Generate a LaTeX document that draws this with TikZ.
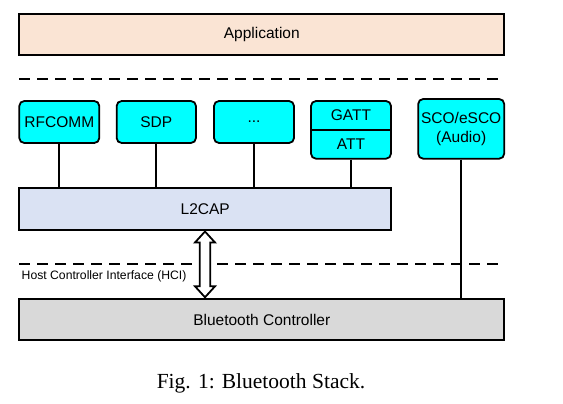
\documentclass[tikz,border=0pt]{standalone}
\usepackage{fontspec}
\setmainfont{Liberation Serif}
\setsansfont{Liberation Sans}
\usetikzlibrary{calc}
\definecolor{appfill}{RGB}{250,228,212}
\definecolor{l2fill}{RGB}{218,226,243}
\definecolor{ctlfill}{RGB}{217,217,217}
\definecolor{cyanfill}{RGB}{0,255,255}
\begin{document}
\begin{tikzpicture}[x=1pt,y=-1pt,
  boxfont/.style={font=\sffamily\fontsize{15.5}{18}\selectfont},
  layer/.style={draw,line width=1.8pt,inner sep=0pt,boxfont},
  proto/.style={draw,line width=1.8pt,rounded corners=5pt,fill=cyanfill,inner sep=0pt,boxfont,align=center},
  link/.style={line width=1.8pt},
  sep/.style={line width=1.8pt,dash pattern=on 11pt off 7pt}]
\useasboundingbox (0,0) rectangle (563,404);
% layers
\node[layer,fill=appfill,minimum width=485pt,minimum height=41pt] (app) at (261.8,34.5) {Application};
\node[layer,fill=l2fill,minimum width=371.7pt,minimum height=41.7pt] (l2cap) at (205.2,209.2) {L2CAP};
\node[layer,fill=ctlfill,minimum width=485pt,minimum height=41pt] (ctl) at (261.8,319.5) {Bluetooth Controller};
% protocols
\node[proto,minimum width=80pt,minimum height=42pt] (rf) at (59.3,122) {RFCOMM};
\node[proto,minimum width=79.3pt,minimum height=42pt] (sdp) at (156.3,122) {SDP};
\node[proto,minimum width=80pt,minimum height=42pt] (dots) at (254,122) {...};
\node[proto,minimum width=80pt,minimum height=57.7pt] (gatt) at (351,129.85) {};
\node[boxfont] (gattt) at (351,115.5) {GATT};
\node[boxfont] (att) at (351,144.5) {ATT};
\draw[link] (gatt.west |- 0,130) coordinate (gl) -- (gatt.east |- 0,130) coordinate (gr);
\node[proto,minimum width=86pt,minimum height=59.7pt,font=\sffamily\fontsize{15.5}{19}\selectfont] (sco) at (461.2,128.85) {SCO/eSCO\\(Audio)};
% separators
\coordinate (s1a) at (19,79);
\coordinate (s1b) at (500,79);
\draw[sep] (s1a) -- (s1b);
\coordinate (s2a) at (19,264);
\coordinate (s2b) at (500,264);
\draw[sep] (s2a) -- (s2b);
% links
\draw[link] (rf.south) -- (rf.south |- l2cap.north);
\draw[link] (sdp.south) -- (sdp.south |- l2cap.north);
\draw[link] (dots.south) -- (dots.south |- l2cap.north);
\draw[link] (gatt.south) -- (gatt.south |- l2cap.north);
\draw[link] (sco.south) -- (sco.south |- ctl.north);
% HCI double arrow
\coordinate (at) at (205,231.5);
\coordinate (ab) at (205,297.3);
\draw[line width=1.8pt,fill=white,line join=miter]
  (at) -- ++(10,11) -- ++(-4.7,0) -- ($(ab)+(5.3,-11)$) -- ++(4.7,0) -- (ab)
  -- ++(-10,-11) -- ++(4.7,0) -- ($(at)+(-5.3,11)$) -- ++(-4.7,0) -- cycle;
\node[anchor=west,inner sep=0pt,font=\sffamily\fontsize{12.2}{14}\selectfont] (hcil) at (21.5,276) {Host Controller Interface (HCI)};
% caption
\node[font=\rmfamily\fontsize{21.5}{24}\selectfont] (cap) at (261,383) {Fig. 1: Bluetooth Stack.};
\end{tikzpicture}
\end{document}
